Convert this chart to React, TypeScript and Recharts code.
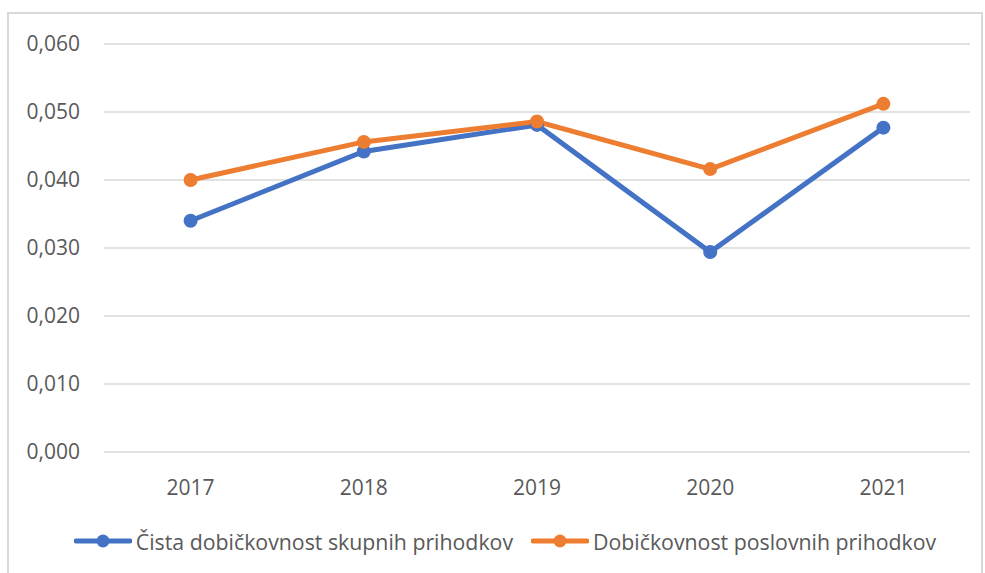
import React from "react"
import { LineChart, Line, XAxis, YAxis, CartesianGrid, Legend } from "recharts"

const years = ["2017", "2018", "2019", "2020", "2021"]
const cistaDobickovnost = [0.034, 0.0442, 0.0481, 0.0294, 0.0477]
const poslovnaDobickovnost = [0.04, 0.0456, 0.0486, 0.0416, 0.0512]
const yTicks = [0, 0.01, 0.02, 0.03, 0.04, 0.05, 0.06]

const series = [
  { key: "cista", name: "Čista dobičkovnost skupnih prihodkov", color: "#4472C4" },
  { key: "poslovna", name: "Dobičkovnost poslovnih prihodkov", color: "#ED7D31" },
]

const data = years.map((year, i) => ({
  year,
  cista: cistaDobickovnost[i],
  poslovna: poslovnaDobickovnost[i],
}))

const FONT = "'Open Sans', 'Noto Sans', sans-serif"
const TEXT = "#595959"

function LegendContent() {
  return (
    <div
      style={{
        height: 68,
        display: "flex",
        alignItems: "center",
        justifyContent: "center",
        paddingBottom: 10,
        paddingLeft: 16,
        boxSizing: "border-box",
        fontFamily: FONT,
        fontSize: 21.3,
        color: TEXT,
        gap: 18,
      }}
    >
      {series.map((s) => (
        <div key={s.key} style={{ display: "flex", alignItems: "center" }}>
          <svg width={58} height={14} style={{ marginRight: 4 }}>
            <line x1={2} y1={7} x2={56} y2={7} stroke={s.color} strokeWidth={5} strokeLinecap="round" />
            <circle cx={29} cy={7} r={6.5} fill={s.color} />
          </svg>
          <span>{s.name}</span>
        </div>
      ))}
    </div>
  )
}

export default function App() {
  return (
    <div
      style={{
        position: "absolute",
        left: 7,
        top: 12,
        width: 976,
        height: 570,
        border: "2px solid #d9d9d9",
        boxSizing: "border-box",
        background: "#fff",
      }}
    >
      <LineChart
        width={972}
        height={566}
        data={data}
        margin={{ top: 30, right: 11, left: 15, bottom: 0 }}
      >
        <CartesianGrid vertical={false} stroke="#d9d9d9" strokeWidth={1.5} />
        <XAxis
          dataKey="year"
          axisLine={false}
          tickLine={false}
          tickSize={0}
          tickMargin={28}
          height={60}
          padding={{ left: 86.6, right: 86.6 }}
          tick={{ fontSize: 21, fill: TEXT, fontFamily: FONT }}
        />
        <YAxis
          domain={[0, 0.06]}
          ticks={yTicks}
          axisLine={false}
          tickLine={false}
          tickSize={0}
          tickMargin={24}
          width={80}
          tickFormatter={(v: number) => v.toFixed(3).replace(".", ",")}
          tick={{ fontSize: 21, fill: TEXT, fontFamily: FONT }}
        />
        <Legend verticalAlign="bottom" height={68} content={() => <LegendContent />} />
        {series.map((s) => (
          <Line
            key={s.key}
            type="linear"
            dataKey={s.key}
            name={s.name}
            stroke={s.color}
            strokeWidth={5}
            dot={{ r: 7, fill: s.color, stroke: s.color, strokeWidth: 0 }}
            activeDot={false}
            isAnimationActive={false}
          />
        ))}
      </LineChart>
    </div>
  )
}
